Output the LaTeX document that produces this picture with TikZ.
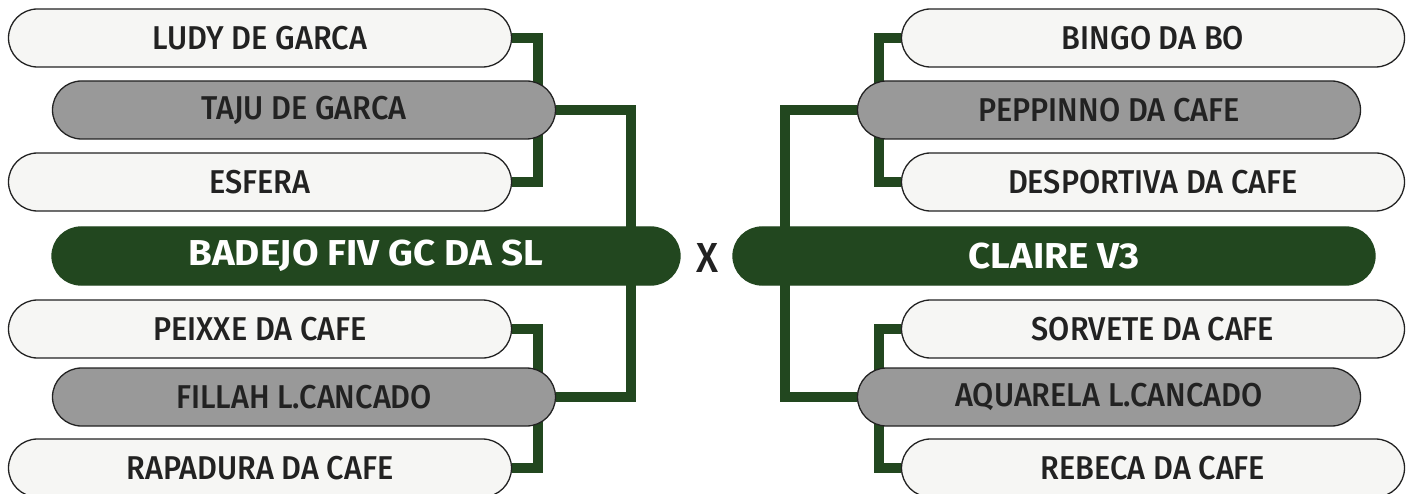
\documentclass[tikz,border=0pt]{standalone}
\usepackage{fontspec}
\setmainfont{Fira Sans}[UprightFont=* Medium, BoldFont=* Bold, FakeStretch=0.93]
\newfontfamily\finalfont{Fira Sans Bold}[FakeStretch=1.07]
\usepackage{xcolor}
\usetikzlibrary{backgrounds}
\definecolor{clubgreen}{HTML}{22471F}
\definecolor{pillgray}{HTML}{999999}
\definecolor{pillwhite}{HTML}{F6F6F4}
\definecolor{inkdark}{HTML}{222222}

\begin{document}
\begin{tikzpicture}[x=1pt,y=-1pt,
    pill/.style={rectangle,rounded corners=29pt,minimum width=503pt,minimum height=58pt,
      inner sep=0pt,draw=inkdark,line width=1.3pt,text=inkdark,
      font=\fontsize{33}{33}\selectfont},
    seed/.style={pill,fill=pillwhite},
    winner/.style={pill,fill=pillgray},
    finalist/.style={pill,fill=clubgreen,draw=clubgreen,text=white,
      font=\fontsize{36}{36}\finalfont},
    bracket/.style={draw=clubgreen,line width=10pt,line join=miter}]
  \useasboundingbox (0,0) rectangle (1412,494);
  % left half
  \node[seed] (ludy) at (260,38) {LUDY DE GARCA};
  \node[winner] (taju) at (304,110) {TAJU DE GARCA};
  \node[seed] (esfera) at (260,182) {ESFERA};
  \node[finalist,minimum width=628pt] (badejo) at (366,256) {BADEJO FIV GC DA SL};
  \node[seed] (peixxe) at (260,329) {PEIXXE DA CAFE};
  \node[winner] (fillah) at (304,397) {FILLAH L.CANCADO};
  \node[seed] (rapadura) at (260,468) {RAPADURA DA CAFE};
  % right half
  \node[seed] (bingo) at (1153,38) {BINGO DA BO};
  \node[winner] (peppinno) at (1109,110) {PEPPINNO DA CAFE};
  \node[seed] (desportiva) at (1153,182) {DESPORTIVA DA CAFE};
  \node[finalist,minimum width=642pt] (claire) at (1054,256) {CLAIRE V3};
  \node[seed] (sorvete) at (1153,329) {SORVETE DA CAFE};
  \node[winner] (aquarela) at (1109,397) {AQUARELA L.CANCADO};
  \node[seed] (rebeca) at (1153,468) {REBECA DA CAFE};
  \node[text=inkdark,font=\fontsize{42}{42}\selectfont] (versus) at (707,258) {X};
  % bracket columns
  \coordinate (li) at (538,0);
  \coordinate (lo) at (631,0);
  \coordinate (ri) at (878.5,0);
  \coordinate (ro) at (785,0);
  \begin{scope}[on background layer]
    \draw[bracket] (ludy.east) -- (ludy.east -| li) -- (esfera.east -| li) -- (esfera.east);
    \draw[bracket] (peixxe.east) -- (peixxe.east -| li) -- (rapadura.east -| li) -- (rapadura.east);
    \draw[bracket] (taju.east) -- (taju.east -| lo) -- (fillah.east -| lo) -- (fillah.east);
    \draw[bracket] (bingo.west) -- (bingo.west -| ri) -- (desportiva.west -| ri) -- (desportiva.west);
    \draw[bracket] (sorvete.west) -- (sorvete.west -| ri) -- (rebeca.west -| ri) -- (rebeca.west);
    \draw[bracket] (peppinno.west) -- (peppinno.west -| ro) -- (aquarela.west -| ro) -- (aquarela.west);
  \end{scope}
\end{tikzpicture}
\end{document}
